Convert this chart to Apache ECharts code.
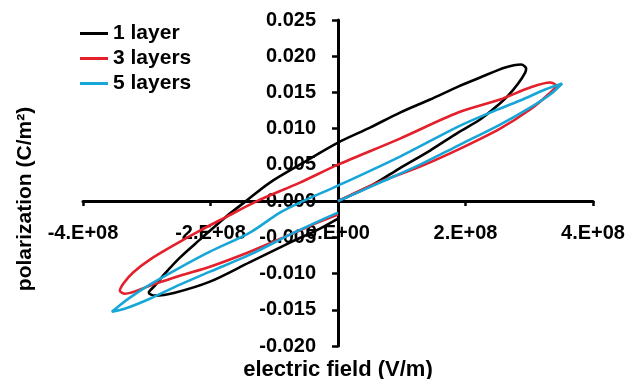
<!DOCTYPE html>
<html>
<head>
<meta charset="utf-8">
<script src="https://cdn.jsdelivr.net/npm/echarts@6/dist/echarts.min.js"></script>
<style>
  html, body { margin: 0; padding: 0; background: #ffffff; }
  #chart { width: 630px; height: 379px; }
</style>
</head>
<body>
<div id="chart"></div>
<script>
// P-E hysteresis loops: electric field (V/m) vs polarization (C/m^2)
const seriesNames = ['1 layer', '3 layers', '5 layers'];
const seriesColors = ['#000000', '#e3202b', '#17a6d8'];

// 1 layer
const field1 = [0, 0.549e8, 0.96e8, 1.444e8, 1.884e8, 2.229e8, 2.465e8, 2.669e8, 2.826e8, 2.936e8, 2.951e8,
  2.873e8, 2.622e8, 2.229e8, 1.884e8, 1.444e8, 0.973e8, 0.502e8, 0, -0.597e8, -1.068e8, -1.444e8,
  -1.774e8, -2.166e8, -2.48e8, -2.716e8, -2.873e8, -2.967e8, -2.873e8, -2.559e8, -2.009e8, -1.381e8,
  -0.754e8, -0.283e8, 0];
const pol1 = [0, 0.00228, 0.0045, 0.00698, 0.00946, 0.01126, 0.01291, 0.01457, 0.01623, 0.01775, 0.0183,
  0.01885, 0.01844, 0.01706, 0.01581, 0.01402, 0.01222, 0.01015, 0.00808, 0.00504, 0.00256, 0,
  -0.00228, -0.00532, -0.0078, -0.01001, -0.01167, -0.01264, -0.01305, -0.01264, -0.01112, -0.00842,
  -0.00574, -0.00380, -0.00242];

// 3 layers
const field3 = [0, 0.549e8, 1.287e8, 1.884e8, 2.543e8, 3.014e8, 3.297e8, 3.422e8, 3.328e8,
  3.014e8, 2.543e8, 1.884e8, 0.973e8, 0, -0.597e8, -1.272e8, -1.774e8, -2.166e8, -2.559e8, -2.951e8,
  -3.218e8, -3.36e8, -3.422e8, -3.344e8, -2.951e8, -2.48e8, -2.009e8, -1.381e8, -0.754e8, -0.283e8, 0];
const pol3 = [0, 0.00228, 0.00477, 0.00711, 0.01001, 0.01264, 0.01471, 0.01595, 0.01637,
  0.01568, 0.01402, 0.01222, 0.00863, 0.00504, 0.00256, 0, -0.00228, -0.00407, -0.00601, -0.00808,
  -0.00988, -0.0113, -0.01236, -0.01278, -0.01167, -0.01029, -0.00905, -0.00698, -0.00463, -0.00283, -0.00186];

// 5 layers
const field5 = [0, 0.659e8, 1.287e8, 1.884e8, 2.543e8, 3.014e8, 3.328e8, 3.516e8,
  3.25e8, 2.857e8, 2.386e8, 1.884e8, 0.973e8, 0, -0.549e8, -0.911e8, -1.381e8, -2.009e8, -2.48e8,
  -2.951e8, -3.265e8, -3.469e8, -3.548e8, -3.36e8, -2.951e8, -2.48e8, -2.009e8, -1.381e8, -0.754e8,
  -0.283e8, 0];
const pol5 = [0, 0.00256, 0.00504, 0.00767, 0.01057, 0.01291, 0.01471, 0.01623,
  0.0154, 0.01388, 0.01222, 0.01029, 0.00615, 0.00214, 0, -0.00159, -0.00435, -0.00698, -0.00918,
  -0.01153, -0.01333, -0.01471, -0.01526, -0.0149, -0.01347, -0.01153, -0.00974, -0.00739, -0.00463,
  -0.00269, -0.00159];

const fieldTicks = { min: -4e8, max: 4e8, step: 2e8 };
const polTicks = { min: -0.02, max: 0.025, step: 0.005 };

const FONT = "'Liberation Sans', Arial, sans-serif";

// plot box
const GRID = { left: 83, right: 37, top: 20, bottom: 33 };
const W = 630, H = 379;
const plotW = W - GRID.left - GRID.right;
const plotH = H - GRID.top - GRID.bottom;
// the axes cross at the origin: shift them from the box edges to the zero lines
const yAxisShift = plotW * (0 - fieldTicks.min) / (fieldTicks.max - fieldTicks.min);
const xAxisShift = plotH * (0 - polTicks.min) / (polTicks.max - polTicks.min);

function pairs(xs, ys) {
  return xs.map((x, i) => [x, ys[i]]);
}

function fieldLabel(v) {
  if (v === 0) return '0.E+00';
  const m = Math.round(v / 1e8);
  return m + '.E+08';
}

const loops = [pairs(field1, pol1), pairs(field3, pol3), pairs(field5, pol5)];

const chart = echarts.init(document.getElementById('chart'), null, { renderer: 'canvas' });

chart.setOption({
  animation: false,
  backgroundColor: '#ffffff',
  grid: Object.assign({ containLabel: false, outerBoundsMode: 'none' }, GRID),
  legend: {
    orient: 'vertical',
    left: 75,
    top: 18,
    icon: 'rect',
    itemWidth: 28,
    itemHeight: 3,
    itemGap: 4,
    textStyle: { fontFamily: FONT, fontWeight: 'bold', fontSize: 21, color: '#000', lineHeight: 20 },
    data: seriesNames
  },
  xAxis: {
    type: 'value',
    position: 'bottom',
    offset: -xAxisShift,
    min: fieldTicks.min,
    max: fieldTicks.max,
    interval: fieldTicks.step,
    axisLine: { onZero: false, lineStyle: { color: '#000', width: 3 } },
    axisTick: { show: true, length: 5, lineStyle: { color: '#000', width: 2.5 } },
    splitLine: { show: false },
    axisLabel: {
      margin: 22,
      hideOverlap: false,
      formatter: fieldLabel,
      fontFamily: FONT, fontWeight: 'bold', fontSize: 20, color: '#000'
    }
  },
  yAxis: {
    type: 'value',
    position: 'left',
    offset: -yAxisShift,
    min: polTicks.min,
    max: polTicks.max,
    interval: polTicks.step,
    axisLine: { onZero: false, lineStyle: { color: '#000', width: 3 } },
    axisTick: { show: true, length: 6, lineStyle: { color: '#000', width: 2.5 } },
    splitLine: { show: false },
    axisLabel: {
      margin: 22,
      hideOverlap: false,
      formatter: v => v.toFixed(3),
      fontFamily: FONT, fontWeight: 'bold', fontSize: 20, color: '#000'
    }
  },
  graphic: [
    {
      type: 'text',
      x: 338, y: 370,
      style: {
        text: 'electric field (V/m)', font: "bold 22px " + FONT, fill: '#000',
        align: 'center', verticalAlign: 'middle'
      }
    },
    {
      type: 'text',
      x: 25, y: 199,
      rotation: Math.PI / 2,
      style: {
        text: 'polarization (C/m²)', font: "bold 21px " + FONT, fill: '#000',
        align: 'center', verticalAlign: 'middle'
      }
    }
  ],
  series: loops.map((data, i) => ({
    name: seriesNames[i],
    type: 'line',
    data: data,
    smooth: 0.3,
    symbol: 'none',
    color: seriesColors[i],
    lineStyle: { color: seriesColors[i], width: 2.6 },
    z: 3
  }))
});
</script>
</body>
</html>
